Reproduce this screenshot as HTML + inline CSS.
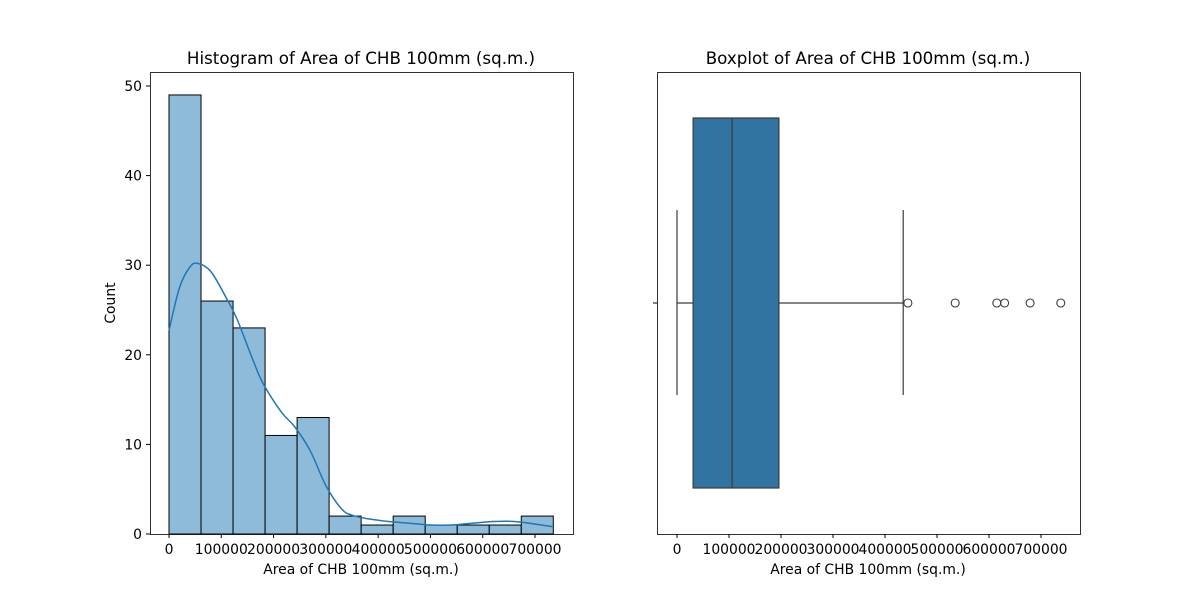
<!DOCTYPE html>
<html><head><meta charset="utf-8">
<style>
body{margin:0;background:#fff;}
svg text{font-family:"DejaVu Sans","Liberation Sans",sans-serif;fill:#000;}
</style></head>
<body>
<svg id="chart" width="1200" height="600" viewBox="0 0 1200 600" xmlns="http://www.w3.org/2000/svg">
<rect width="1200" height="600" fill="#fff"/>
<g id="left"></g>
<g id="right"></g>
</svg>
<script>
const histCounts=[49,26,23,11,13,2,1,2,1,1,1,2];
const binStart=0;
const binWidth=61250;
const kdeX=[0,20000,40000,55000,80000,110000,130000,160000,180000,215000,240000,270000,300000,330000,350000,380000,420000,460000,500000,540000,580000,620000,660000,700000,735000];
const kdeY=[22.7,27.5,29.8,30.2,29.3,26.3,24,19.5,16.8,13.6,12,9.3,5.4,2.8,2.1,1.7,1.4,1.2,1.0,1.0,1.2,1.4,1.4,1.1,0.8];
const histYTicks=[0,10,20,30,40,50];
const xTicks=[0,100000,200000,300000,400000,500000,600000,700000];
const boxStats={min:0,q1:31000,median:106000,q3:196000,max:435000};
const outliers=[444000,535000,615000,630000,679000,738000];

const NS="http://www.w3.org/2000/svg";
function mk(p,tag,attrs,txt){const e=document.createElementNS(NS,tag);for(const k in attrs)e.setAttribute(k,attrs[k]);if(txt!==undefined)e.textContent=txt;p.appendChild(e);return e;}

const L=document.getElementById('left');
const lx=v=>169+v*(535-169)/700000;
const ly=v=>534-v*(534-86)/50;
histCounts.forEach((c,i)=>{
  const x0=lx(binStart+i*binWidth),x1=lx(binStart+(i+1)*binWidth);
  const r=mk(L,'rect',{x:x0,y:ly(c),width:x1-x0,height:ly(0)-ly(c),fill:'#8fbbda',stroke:'#000','stroke-width':1});
  
  
});
const pts=kdeX.map((v,i)=>[lx(v),ly(kdeY[i])]);
let d='M'+pts[0][0].toFixed(1)+','+pts[0][1].toFixed(1);
for(let i=0;i<pts.length-1;i++){
  const p0=pts[Math.max(0,i-1)],p1=pts[i],p2=pts[i+1],p3=pts[Math.min(pts.length-1,i+2)];
  const c1=[p1[0]+(p2[0]-p0[0])/6,p1[1]+(p2[1]-p0[1])/6];
  const c2=[p2[0]-(p3[0]-p1[0])/6,p2[1]-(p3[1]-p1[1])/6];
  d+='C'+c1[0].toFixed(1)+','+c1[1].toFixed(1)+' '+c2[0].toFixed(1)+','+c2[1].toFixed(1)+' '+p2[0].toFixed(1)+','+p2[1].toFixed(1);
}
const kl=mk(L,'path',{d:d,fill:'none',stroke:'#1f77b4','stroke-width':1.5});


const lf=mk(L,'rect',{x:150.5,y:72.5,width:423,height:462,fill:'none',stroke:'#000','stroke-width':0.8});


histYTicks.forEach(t=>{
  mk(L,'line',{x1:146,x2:150,y1:ly(t),y2:ly(t),stroke:'#000'});
  const tx=mk(L,'text',{x:142,y:ly(t)+5,'text-anchor':'end','font-size':13.9},String(t));
  
  
});
xTicks.forEach(t=>{
  mk(L,'line',{x1:lx(t),x2:lx(t),y1:534,y2:538,stroke:'#000'});
  const tx=mk(L,'text',{x:lx(t),y:554,'text-anchor':'middle','font-size':13.9},String(t));
  
  
});
let t1=mk(L,'text',{x:361,y:64,'text-anchor':'middle','font-size':16.7},'Histogram of Area of CHB 100mm (sq.m.)');

let t2=mk(L,'text',{x:361,y:574,'text-anchor':'middle','font-size':13.9},'Area of CHB 100mm (sq.m.)');

let t3=mk(L,'text',{x:115,y:303,'text-anchor':'middle','font-size':13.9,transform:'rotate(-90 115 303)'},'Count');


const R=document.getElementById('right');
const rx=v=>677+v*(1041-677)/700000;
const cy=303;
mk(R,'line',{x1:rx(boxStats.min),x2:rx(boxStats.q1),y1:cy,y2:cy,stroke:'#3b3b3b','stroke-width':1.2});
mk(R,'line',{x1:rx(boxStats.q3),x2:rx(boxStats.max),y1:cy,y2:cy,stroke:'#3b3b3b','stroke-width':1.2});
mk(R,'line',{x1:rx(boxStats.min),x2:rx(boxStats.min),y1:210,y2:395,stroke:'#3b3b3b','stroke-width':1.2});
mk(R,'line',{x1:rx(boxStats.max),x2:rx(boxStats.max),y1:210,y2:395,stroke:'#3b3b3b','stroke-width':1.2});
const bx=mk(R,'rect',{x:rx(boxStats.q1),y:118,width:rx(boxStats.q3)-rx(boxStats.q1),height:370,fill:'#3274a1',stroke:'#3b3b3b','stroke-width':1.2});

const md=mk(R,'line',{x1:rx(boxStats.median),x2:rx(boxStats.median),y1:118,y2:488,stroke:'#3b3b3b','stroke-width':1.2});

outliers.forEach(o=>{
  const c=mk(R,'circle',{cx:rx(o),cy:cy,r:4,fill:'none',stroke:'#3b3b3b','stroke-width':1.1});
  
  
});
const rf=mk(R,'rect',{x:657.5,y:72.5,width:423,height:462,fill:'none',stroke:'#000','stroke-width':0.8});

mk(R,'line',{x1:653,x2:657,y1:cy,y2:cy,stroke:'#000'});
xTicks.forEach(t=>{
  mk(R,'line',{x1:rx(t),x2:rx(t),y1:534,y2:538,stroke:'#000'});
  const tx=mk(R,'text',{x:rx(t),y:554,'text-anchor':'middle','font-size':13.9},String(t));
  
  
});
let t4=mk(R,'text',{x:868,y:64,'text-anchor':'middle','font-size':16.7},'Boxplot of Area of CHB 100mm (sq.m.)');

let t5=mk(R,'text',{x:868,y:574,'text-anchor':'middle','font-size':13.9},'Area of CHB 100mm (sq.m.)');

</script>
</body></html>
